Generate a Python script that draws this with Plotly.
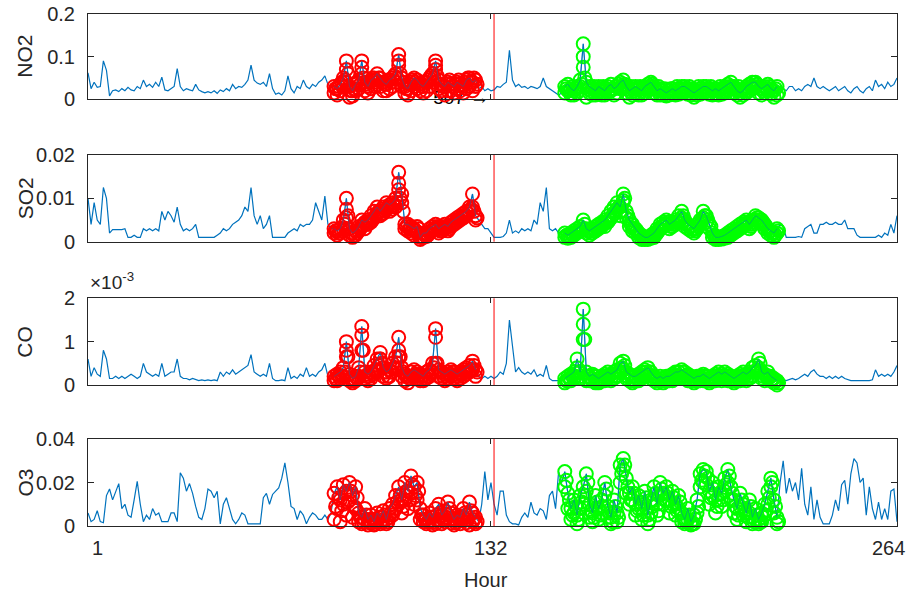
import plotly.graph_objects as go

# ---------------- data ----------------
hours = list(range(1, 265))
RED_START = 81
GREEN_START = 156

# NO2 (ppm)
no2_pre = [0.062,0.025,0.040,0.028,0.030,0.090,0.068,0.008,0.020,0.022,
           0.018,0.025,0.020,0.028,0.022,0.020,0.030,0.025,0.045,0.030,
           0.035,0.028,0.040,0.030,0.052,0.022,0.020,0.025,0.030,0.072,
           0.030,0.020,0.025,0.022,0.020,0.035,0.022,0.018,0.015,0.018,
           0.015,0.020,0.014,0.022,0.018,0.025,0.020,0.035,0.025,0.030,
           0.028,0.035,0.045,0.080,0.045,0.038,0.035,0.040,0.030,0.060,
           0.025,0.012,0.015,0.010,0.020,0.055,0.025,0.015,0.030,0.025,
           0.045,0.030,0.025,0.035,0.030,0.040,0.045,0.055,0.035,0.030]
no2_red = [0.030,0.025,0.035,0.050,0.090,0.030,0.020,0.035,0.045,0.090,
           0.040,0.030,0.045,0.050,0.060,0.050,0.040,0.035,0.045,0.050,
           0.060,0.105,0.050,0.030,0.025,0.040,0.050,0.045,0.035,0.030,
           0.040,0.050,0.060,0.090,0.045,0.035,0.030,0.040,0.035,0.030,
           0.040,0.035,0.030,0.045,0.050,0.040,0.045]
no2_red_alt = [0.015,0.010,0.020,0.030,0.040,0.005,0.008,0.020,0.025,0.060,
               0.020,0.015,0.025,0.030,0.040,0.030,0.020,0.020,0.025,0.030,
               0.040,0.080,0.030,0.015,0.010,0.020,0.030,0.025,0.020,0.015,
               0.020,0.030,0.040,0.070,0.025,0.020,0.010,0.020,0.020,0.015,
               0.025,0.020,0.015,0.025,0.030,0.020,0.030]
no2_red_half = [0.025,0.030,0.040,0.045,0.060,0.020,0.025,0.040,0.035,0.050,
                0.035,0.040,0.050,0.045,0.050,0.040,0.035,0.045,0.040,0.055,
                0.050,0.060,0.040,0.025,0.035,0.045,0.040,0.035,0.030,0.040,
                0.045,0.055,0.050,0.055,0.035,0.030,0.035,0.045,0.030,0.035,
                0.045,0.030,0.040,0.050,0.040,0.050,0.035]
no2_mid = [0.025,0.030,0.020,0.025,0.020,0.022,0.030,0.028,0.035,0.040,
           0.115,0.045,0.030,0.035,0.028,0.030,0.025,0.030,0.028,0.025,
           0.030,0.050,0.030,0.025,0.020,0.015,0.010,0.015]
no2_green = [0.030,0.035,0.025,0.020,0.030,0.045,0.130,0.040,0.030,0.025,
             0.020,0.030,0.025,0.020,0.030,0.035,0.025,0.030,0.040,0.045,
             0.030,0.020,0.025,0.030,0.025,0.020,0.030,0.035,0.040,0.030,
             0.020,0.025,0.020,0.015,0.020,0.025,0.020,0.025,0.030,0.030,
             0.025,0.020,0.015,0.020,0.025,0.030,0.030,0.025,0.020,0.025,
             0.020,0.025,0.030,0.035,0.040,0.030,0.020,0.015,0.020,0.030,
             0.035,0.040,0.040,0.030,0.025,0.030,0.035,0.025,0.020,0.030]
no2_green_alt = [0.015,0.020,0.010,0.010,0.015,0.030,0.100,0.005,0.015,0.010,
                 0.010,0.015,0.010,0.010,0.015,0.020,0.010,0.015,0.025,0.030,
                 0.015,0.005,0.010,0.015,0.010,0.010,0.015,0.020,0.025,0.015,
                 0.010,0.010,0.010,0.008,0.010,0.012,0.010,0.012,0.015,0.018,
                 0.012,0.010,0.005,0.010,0.012,0.015,0.018,0.012,0.010,0.012,
                 0.010,0.012,0.015,0.020,0.025,0.015,0.010,0.005,0.010,0.015,
                 0.020,0.025,0.028,0.015,0.010,0.015,0.020,0.012,0.005,0.010]
no2_green_half = [0.025,0.020,0.030,0.025,0.020,0.035,0.050,0.025,0.020,0.030,
                  0.025,0.020,0.030,0.025,0.020,0.025,0.030,0.035,0.030,0.035,
                  0.025,0.030,0.020,0.025,0.030,0.025,0.025,0.030,0.035,0.025,
                  0.030,0.020,0.025,0.020,0.025,0.020,0.030,0.020,0.025,0.020,
                  0.030,0.025,0.020,0.030,0.020,0.025,0.020,0.030,0.025,0.020,
                  0.030,0.020,0.025,0.030,0.030,0.025,0.030,0.020,0.025,0.020,
                  0.030,0.030,0.035,0.025,0.020,0.025,0.030,0.020,0.025,0.015]
no2_post = [0.020,0.025,0.020,0.030,0.030,0.020,0.025,0.020,0.030,0.035,
            0.030,0.050,0.030,0.025,0.030,0.025,0.020,0.025,0.030,0.020,
            0.025,0.030,0.020,0.015,0.025,0.030,0.020,0.015,0.025,0.030,
            0.020,0.045,0.030,0.035,0.025,0.040,0.030,0.035,0.050]
no2_stack_h = [85, 90, 102, 114, 162]
no2_stack_v = [0.070, 0.075, 0.090, 0.080, 0.075]

# SO2 (x 1e-3 ppm)
so2_pre = [10,4,9,5,4,12.5,10,2,2.8,2.8,
           2.8,2.8,3,1,1,1.5,1,1,3,2.5,
           3,2.5,3,2.5,7,5,7,6,4.5,8,
           4,2.5,3,2.5,3,4,1,1,1,1,
           1,1,1.5,2,3,2.5,3,4,4.5,5,
           6,8,7,12.5,6,4,6,3,4,6,
           1,1,1,1,1,2,2.5,3,2.5,4,
           3.5,4,4,5,9,7,5,10.5,4,3]
so2_red = [3,2.5,3,5,10,3,2,2.5,3.5,5,
           4.5,5,6,7,8,7,8,9,8.5,9,
           10,16,11,4,4,3.5,3,3.5,1,2,
           2,3,3.5,4,3,3.5,4,3.5,4.5,5,
           5.5,6,6.5,7,8,11,6]
so2_red_alt = [2,1.5,2,3,7.5,1.5,1,1.5,2.5,3.5,
               3,4,4.5,5.5,6.5,6,6.5,7.5,7,7.5,
               8,12,9,3,2.5,2,1.5,2,0.5,1,
               1.2,2,2.5,3,2,2.5,3,2.5,3.5,4,
               4.5,5,5.5,6,7,8,5]
so2_red_half = [2.5,2,2.5,4,6,2,1.5,2,3,4,
                4,4.5,5,6,7,6.5,7,8,8,8.5,
                9,10,7,3.5,3,3,2.5,3,1,1.5,
                1.5,2.5,3,3.5,2.5,3,3.5,3,4,4.5,
                5,5.5,6,6.5,7.5,7,5.5]
so2_mid = [5,4,3,3,2,1,1,1,1.2,2,
           5,2,2.5,2,3,2.5,3,2.5,5,4,
           9,7,12.5,3,2.5,3,2,2.5]
so2_green = [2,1.5,2,2.5,3,3.5,5,3,2.5,3,
             3.5,4,4.5,5,6,7,8,9,8,11,
             7,5,4,3,2,1.5,1,1,1.5,2,
             3,4,4.5,5,4,4.5,5,6,7,5,
             4,3.5,3,4,5,7,6,4,2,1,
             1,1.2,1.5,2,2.5,3,3.5,4,4.5,5,
             4,5,6,5.5,5,4,3,2.5,2,3]
so2_green_alt = [1,0.8,1,1.5,2,2.5,3,2,1.5,2,
                 2.5,3,3.5,3.5,4.5,5.5,6.5,7.5,6,9,
                 5.5,3.5,2.5,2,1,0.5,0.5,0.5,0.8,1,
                 2,3,3.5,4,3,3.5,4,4.5,5.5,3.5,
                 3,2.5,2,3,4,5.5,4.5,3,1,0.5,
                 0.5,0.6,0.8,1,1.5,2,2.5,3,3.5,4,
                 3,4,5,4.5,4,3,2,1.5,1,2]
so2_green_half = [1.5,1,1.5,2,2.5,3,4,2.5,2,2.5,
                  3,3.5,4,4.5,5,6,7,8,7,10,
                  6,4,3,2.5,1.5,1,0.8,0.8,1,1.5,
                  2.5,3.5,4,4.5,3.5,4,4.5,5,6,4,
                  3.5,3,2.5,3.5,4.5,6,5,3.5,1.5,0.8,
                  0.8,1,1,1.5,2,2.5,3,3.5,4,4.5,
                  3.5,4.5,5.5,5,4.5,3.5,2.5,2,1.5,2.5]
so2_post = [4,3.5,1,1,1,1,1.2,1,3,3.5,
            4,2,2,4,4,4.5,4,4,4.5,4,
            4,5,3,3,3,1.5,1,1,1,1,
            1,1,1.5,1,2,1.5,4,2,6]
so2_stack_h = [85, 102, 175]
so2_stack_v = [5.5, 13.5, 9.5]

# CO (x 1e-3 ppm)
co_pre = [0.6,0.2,0.4,0.25,0.2,0.8,0.6,0.15,0.15,0.2,
          0.15,0.2,0.15,0.2,0.25,0.2,0.15,0.2,0.5,0.3,
          0.25,0.2,0.25,0.2,0.5,0.2,0.25,0.3,0.3,0.6,
          0.2,0.15,0.15,0.12,0.15,0.12,0.1,0.12,0.1,0.12,
          0.1,0.12,0.1,0.3,0.2,0.3,0.25,0.35,0.25,0.3,
          0.35,0.4,0.45,0.7,0.3,0.25,0.2,0.25,0.2,0.5,
          0.15,0.1,0.1,0.12,0.1,0.4,0.15,0.2,0.15,0.25,
          0.2,0.4,0.2,0.25,0.2,0.3,0.35,0.5,0.2,0.15]
co_red = [0.2,0.25,0.3,0.4,1.0,0.25,0.15,0.2,0.4,1.35,
          0.3,0.25,0.3,0.45,0.6,0.75,0.4,0.3,0.35,0.5,
          0.65,1.1,0.4,0.25,0.2,0.3,0.35,0.3,0.25,0.2,
          0.3,0.35,0.5,1.3,0.35,0.3,0.25,0.3,0.35,0.3,
          0.25,0.3,0.35,0.4,0.45,0.55,0.35]
co_red_alt = [0.1,0.1,0.15,0.2,0.8,0.1,0.05,0.1,0.2,1.15,
              0.15,0.1,0.15,0.25,0.35,0.6,0.2,0.15,0.2,0.3,
              0.4,0.8,0.2,0.1,0.05,0.15,0.2,0.15,0.1,0.1,
              0.15,0.2,0.3,1.1,0.2,0.15,0.1,0.15,0.2,0.15,
              0.1,0.15,0.2,0.25,0.3,0.35,0.2]
co_red_half = [0.15,0.2,0.2,0.3,0.65,0.15,0.1,0.15,0.3,0.8,
               0.2,0.2,0.25,0.35,0.45,0.5,0.3,0.2,0.3,0.4,
               0.5,0.65,0.3,0.2,0.15,0.2,0.25,0.2,0.2,0.15,
               0.2,0.3,0.4,0.5,0.3,0.2,0.2,0.25,0.3,0.2,
               0.2,0.25,0.3,0.3,0.35,0.45,0.3]
co_mid = [0.2,0.15,0.2,0.15,0.2,0.15,0.2,0.3,0.25,0.5,
          1.5,0.9,0.3,0.4,0.3,0.25,0.3,0.25,0.35,0.2,
          0.25,0.2,0.45,0.15,0.1,0.1,0.1,0.1]
co_green = [0.15,0.2,0.25,0.3,0.6,0.3,1.75,0.3,0.2,0.25,
            0.2,0.15,0.2,0.25,0.3,0.25,0.3,0.35,0.5,0.55,
            0.3,0.25,0.2,0.2,0.25,0.3,0.35,0.4,0.3,0.2,
            0.15,0.2,0.15,0.2,0.2,0.25,0.3,0.3,0.35,0.3,
            0.25,0.2,0.15,0.2,0.2,0.25,0.2,0.15,0.2,0.25,
            0.3,0.25,0.3,0.25,0.2,0.15,0.2,0.25,0.3,0.25,
            0.3,0.4,0.45,0.6,0.3,0.25,0.3,0.2,0.15,0.1]
co_green_alt = [0.05,0.1,0.1,0.15,0.4,0.15,1.4,0.1,0.1,0.1,
                0.05,0.05,0.1,0.1,0.15,0.1,0.15,0.2,0.3,0.35,
                0.15,0.1,0.05,0.1,0.1,0.15,0.2,0.25,0.15,0.1,
                0.05,0.1,0.05,0.1,0.1,0.1,0.15,0.15,0.2,0.15,
                0.1,0.1,0.05,0.1,0.1,0.1,0.1,0.05,0.1,0.1,
                0.15,0.1,0.15,0.1,0.1,0.05,0.1,0.1,0.15,0.1,
                0.15,0.2,0.3,0.4,0.15,0.1,0.15,0.1,0.05,0.0]
co_green_half = [0.1,0.15,0.2,0.2,0.3,0.2,1.05,0.2,0.15,0.2,
                 0.1,0.1,0.15,0.2,0.2,0.2,0.2,0.3,0.4,0.45,
                 0.2,0.2,0.1,0.15,0.2,0.2,0.3,0.3,0.2,0.15,
                 0.1,0.15,0.1,0.15,0.15,0.2,0.2,0.2,0.3,0.2,
                 0.2,0.15,0.1,0.15,0.15,0.2,0.15,0.1,0.15,0.2,
                 0.2,0.2,0.2,0.2,0.15,0.1,0.15,0.2,0.2,0.2,
                 0.2,0.3,0.35,0.5,0.2,0.2,0.2,0.15,0.1,0.05]
co_post = [0.1,0.12,0.1,0.12,0.15,0.12,0.15,0.2,0.25,0.2,
           0.3,0.35,0.25,0.2,0.2,0.15,0.2,0.15,0.2,0.15,
           0.2,0.15,0.12,0.1,0.1,0.1,0.1,0.1,0.1,0.1,
           0.12,0.35,0.2,0.25,0.2,0.25,0.2,0.3,0.45]
co_stack_h = [85, 90, 96, 102, 114, 162]
co_stack_v = [0.65, 0.8, 0.6, 0.65, 0.5, 1.05]

# O3 (x 1e-3 ppm)
o3_pre = [6,2,3,7,2,1.5,14,17,12,16,
          19.5,8,10,5,4,12,20.5,10,2,5,
          3,8,5,6,2,2,2,6,6,2,
          24.5,22,16,19.5,15,9,4,3,8,17,
          16,13,16,1,10,13,8,3,1,3,
          6,5,1,1,1,1,1,13,15,10,
          14.5,16,17.5,22,29,20,9,8,3,7,
          5,1,4,6,5,3,3,5,3,6]
o3_red = [15,18,12,19,16,20,14,18,6,4,
          8,3,5,2,6,4,7,3,8,10,
          14,18,12,20,16,23,18,20,8,5,
          3,6,4,8,10,5,7,11,6,3,
          5,4,8,5,11,6,4]
o3_red_alt = [3,8,2,10,5,12,4,8,2,1,
              3,0.5,1.5,0.5,2,1,3,1,4,5,
              8,10,6,12,8,15,10,12,3,2,
              1,2,0.5,1,3,1,2,5,1.5,0.5,
              2,1,4,1.5,0.5,2,1]
o3_red_half = [9,13,7,15,11,16,9,13,4,2,
               5,1.5,3,1,4,2,5,2,6,7,
               11,14,9,16,12,19,14,16,5,3,
               2,4,2,5,6,3,4,8,3.5,1.5,
               3,2.5,6,3,7,3,2]
o3_mid = [2,10,25,12,20,10,5,16,16,5,
          2,1,1,0.5,4,6,4,11,6,5,
          8,7,3,14,16,8,25,20]
o3_green = [25,15,8,12,5,14,18,24,10,6,
            14,8,12,20,9,4,12,6,28,31,
            22,15,18,10,14,8,16,5,12,18,
            10,20,15,18,12,16,10,14,6,3,
            8,2,5,12,24,26,25,16,20,12,
            18,15,22,26,18,12,8,15,10,6,
            12,4,8,3,6,10,16,22,12,4]
o3_green_alt = [18,8,3,6,1,8,10,16,4,2,
                8,3,6,14,4,1,6,2,20,26,
                15,10,12,5,8,3,10,1,6,12,
                5,14,10,12,6,10,5,8,2,1,
                3,0.5,1,6,18,20,19,10,14,6,
                12,9,16,20,12,6,3,9,5,2,
                6,1,3,1,2,5,10,18,6,1]
o3_green_half = [21,12,5,9,3,11,14,20,7,4,
                 11,5,9,17,6,2,9,4,24,28,
                 18,12,15,7,11,5,13,3,9,15,
                 7,17,12,15,9,13,7,11,4,2,
                 5,1,3,9,21,23,22,13,17,9,
                 15,12,19,23,15,9,5,12,7,4,
                 9,2,5,2,4,7,13,20,9,2]
o3_post = [20,30,15,22,16,20,12,26.5,10,5,
           18,3,12,4,1,1,1,5,12,7,
           19,21,10,24,31,29,20,22,5,18,
           8,3,11,3,8,3,16,17,2]
o3_stack_h = []
o3_stack_v = []

# axis settings
names = ["NO2", "SO2", "CO", "O3"]
y_max = [0.2, 0.02, 0.002, 0.04]
y_tickvals = [[0, 0.1, 0.2], [0, 0.01, 0.02], [0, 0.001, 0.002], [0, 0.02, 0.04]]
y_ticktext = [["0", "0.1", "0.2"], ["0", "0.01", "0.02"], ["0", "1", "2"], ["0", "0.02", "0.04"]]
x_tickvals = [1, 132, 264]
x_ticktext = ["1", "132", "264"]
x_label_px = [97, 490, 888]   # where the reference prints the hour labels
split_hour = 133

panels = [
    (1.0,  no2_pre, no2_red, no2_red_alt, no2_red_half, no2_mid, no2_green, no2_green_alt, no2_green_half, no2_post, no2_stack_h, no2_stack_v),
    (1e-3, so2_pre, so2_red, so2_red_alt, so2_red_half, so2_mid, so2_green, so2_green_alt, so2_green_half, so2_post, so2_stack_h, so2_stack_v),
    (1e-3, co_pre, co_red, co_red_alt, co_red_half, co_mid, co_green, co_green_alt, co_green_half, co_post, co_stack_h, co_stack_v),
    (1e-3, o3_pre, o3_red, o3_red_alt, o3_red_half, o3_mid, o3_green, o3_green_alt, o3_green_half, o3_post, o3_stack_h, o3_stack_v),
]

# ---------------- figure ----------------
W, H = 908, 593
FONT = "Liberation Sans, Arial, Helvetica, sans-serif"
TXT = "#262626"
BLUE = "#0072BD"
boxes = [(14, 99.3), (155, 241.7), (298.3, 385), (439, 526)]  # panel (top, bottom) px
x_dom = [88 / W, 897 / W]

fig = go.Figure()
layout = dict(width=W, height=H, margin=dict(l=0, r=0, t=0, b=0, autoexpand=False),
              paper_bgcolor="white", plot_bgcolor="white", showlegend=False,
              font=dict(family=FONT, size=20, color=TXT))
shapes = []
annotations = []

for i, (sc, pre, red, red_alt, red_half, mid, green, green_alt, green_half, post, st_h, st_v) in enumerate(panels):
    k = i + 1
    xa = "x" if k == 1 else f"x{k}"
    ya = "y" if k == 1 else f"y{k}"
    blue = [v * sc for v in (pre + red + mid + green + post)]

    if k == 1:
        fig.add_trace(go.Scatter(x=[122.3], y=[0], mode="text", text=["507 \u2192"],
                                 textposition="middle center",
                                 textfont=dict(family=FONT, size=19, color="black"),
                                 cliponaxis=False, xaxis=xa, yaxis=ya, hoverinfo="skip"))

    fig.add_trace(go.Scatter(x=hours, y=blue, mode="lines",
                             line=dict(color=BLUE, width=1.2), xaxis=xa, yaxis=ya))

    red_h = list(range(RED_START, RED_START + len(red)))
    green_h = list(range(GREEN_START, GREEN_START + len(green)))
    rx = red_h + red_h[:len(red_alt)] + [h + 0.5 for h in red_h[:len(red_half)]]
    ry = [v * sc for v in red + red_alt + red_half]
    gx = green_h + green_h[:len(green_alt)] + [h + 0.5 for h in green_h[:len(green_half)]]
    gy = [v * sc for v in green + green_alt + green_half]
    for h, v in zip(st_h, st_v):
        if h < split_hour:
            rx.append(h); ry.append(v * sc)
        else:
            gx.append(h); gy.append(v * sc)

    for xs, ys, col in ((rx, ry, "#FF0000"), (gx, gy, "#00FF00")):
        fig.add_trace(go.Scatter(x=xs, y=ys, mode="markers", cliponaxis=False,
                                 marker=dict(symbol="circle-open", size=13, color=col,
                                             line=dict(width=2.0, color=col)),
                                 xaxis=xa, yaxis=ya))

    # the series shows faintly through the rings over the flagged stretches
    for seg_h, seg_v in ((red_h, red), (green_h, green)):
        fig.add_trace(go.Scatter(x=seg_h, y=[v * sc for v in seg_v], mode="lines",
                                 line=dict(color=BLUE, width=0.9), opacity=0.55,
                                 xaxis=xa, yaxis=ya))

    top, bot = boxes[i]
    y_dom = [1 - bot / H, 1 - top / H]
    layout["xaxis" if k == 1 else f"xaxis{k}"] = dict(
        domain=x_dom, anchor=ya, range=[1, 264], tickvals=x_tickvals,
        showticklabels=False, ticks="inside", ticklen=5, tickcolor=TXT,
        showline=True, linecolor=TXT, linewidth=1, mirror="ticks", automargin=False,
        showgrid=False, zeroline=False)
    layout["yaxis" if k == 1 else f"yaxis{k}"] = dict(
        domain=y_dom, anchor=xa, range=[0, y_max[i]], tickvals=y_tickvals[i],
        ticktext=y_ticktext[i], ticks="inside", ticklen=6, tickcolor=TXT,
        showline=True, linecolor=TXT, linewidth=1, mirror="ticks", automargin=False,
        showgrid=False, zeroline=False, tickfont=dict(family=FONT, size=20, color=TXT),
        ticklabelstandoff=8)

    shapes.append(dict(type="line", xref=xa, yref=f"{ya} domain", x0=split_hour, x1=split_hour,
                       y0=0, y1=1, line=dict(color="#FF0000", width=1)))
    annotations.append(dict(text=names[i], xref="paper", yref="paper", x=25 / W,
                            y=1 - (top + bot) / 2 / H, textangle=-90, showarrow=False,
                            xanchor="center", yanchor="middle",
                            font=dict(family=FONT, size=21, color=TXT)))

# hour tick labels under the bottom panel
for txt, px in zip(x_ticktext, x_label_px):
    annotations.append(dict(text=txt, xref="paper", yref="paper", x=px / W, y=1 - 548 / H,
                            xanchor="center", yanchor="middle", showarrow=False,
                            font=dict(family=FONT, size=20, color=TXT)))

annotations.append(dict(text="\u00d710<sup>-3</sup>", xref="paper", yref="paper",
                        x=88 / W, y=1 - 295 / H, xanchor="left", yanchor="bottom",
                        showarrow=False, font=dict(family=FONT, size=19, color=TXT)))
annotations.append(dict(text="Hour", xref="paper", yref="paper", x=486 / W, y=1 - 580 / H,
                        xanchor="center", yanchor="middle", showarrow=False,
                        font=dict(family=FONT, size=20, color=TXT)))

layout["shapes"] = shapes
layout["annotations"] = annotations
fig.update_layout(**layout)
fig.write_html("out.html")
